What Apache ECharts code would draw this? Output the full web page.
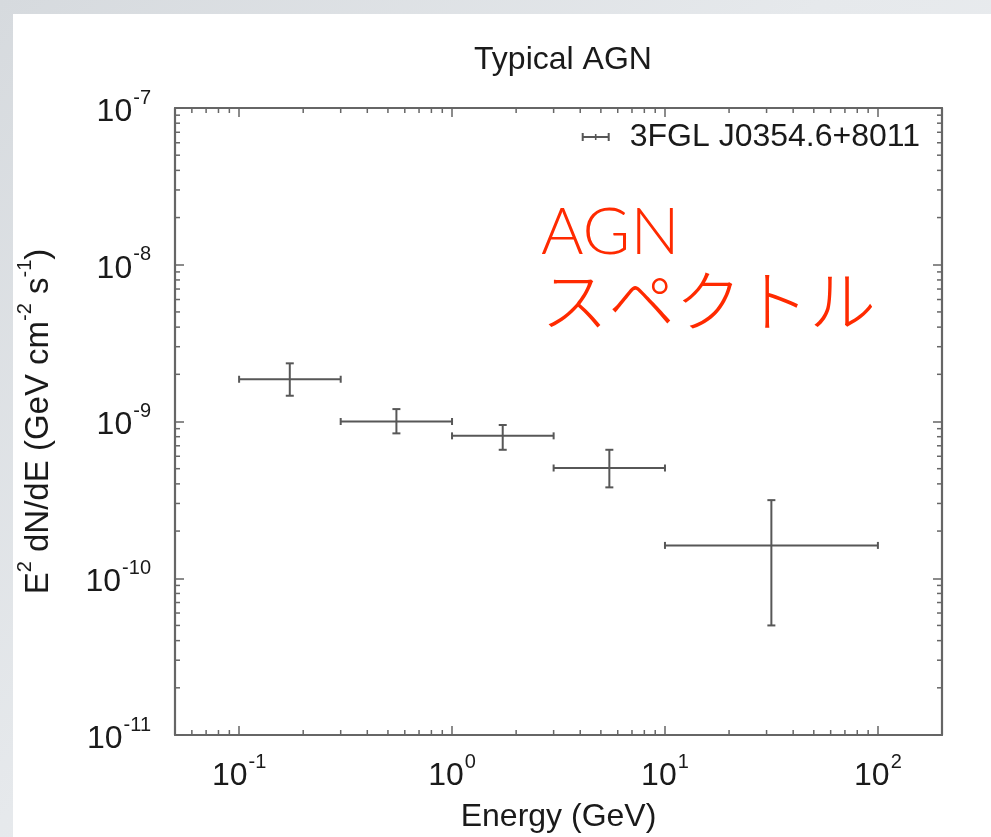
<!DOCTYPE html>
<html>
<head>
<meta charset="utf-8">
<script src="https://cdn.jsdelivr.net/npm/echarts@6/dist/echarts.min.js"></script>
<style>
  html, body { margin: 0; padding: 0; }
  body {
    width: 991px; height: 837px; overflow: hidden; position: relative;
    background: linear-gradient(135deg, #d6dade 0%, #e6e9ec 45%, #eef0f2 100%);
  }
  #panel { position: absolute; left: 13px; top: 14px; right: 0; bottom: 0; background: #ffffff; }
  #chart { position: absolute; left: 0; top: 0; width: 991px; height: 837px; }
</style>
</head>
<body>
<div id="panel"></div>
<div id="chart"></div>
<script>
// Fermi-LAT spectral points for 3FGL J0354.6+8011 (energy bins in GeV, E^2 dN/dE in GeV cm^-2 s^-1)
const sourceName = '3FGL J0354.6+8011';
const energyCenter = [0.173, 0.548, 1.73, 5.48, 31.6];
const energyLow    = [0.1, 0.3, 1, 3, 10];
const energyHigh   = [0.3, 1, 3, 10, 100];
const flux         = [1.86e-9, 1.0e-9, 8.1e-10, 5.05e-10, 1.62e-10];
const fluxLow      = [1.46e-9, 8.4e-10, 6.6e-10, 3.8e-10, 5.0e-11];
const fluxHigh     = [2.35e-9, 1.2e-9, 9.5e-10, 6.6e-10, 3.15e-10];

const xRange = [0.05, 200];
const yRange = [1e-11, 1e-7];

const FONT = '"Liberation Sans", Arial, Helvetica, sans-serif';
const TEXT_COLOR = '#1a1a1a';
const AXIS_COLOR = '#666666';
const BAR_COLOR = '#575757';

// minor (2..9) tick positions inside each axis range
function minorTicks(lo, hi) {
  const out = [];
  for (let e = Math.floor(Math.log10(lo)); e <= Math.ceil(Math.log10(hi)); e++) {
    for (let m = 2; m <= 9; m++) {
      const v = m * Math.pow(10, e);
      if (v > lo * 1.0001 && v < hi * 0.9999) out.push(v);
    }
  }
  return out;
}
const xMinor = minorTicks(xRange[0], xRange[1]);
const yMinor = minorTicks(yRange[0], yRange[1]);
const minorData = xMinor.map(v => [v, 1e-9, 0]).concat(yMinor.map(v => [1, v, 1]));

function powerLabel(v) {
  const lg = Math.log10(v);
  const ex = Math.round(lg);
  if (Math.abs(lg - ex) > 1e-6) return '';
  return '{b|10}{s|' + ex + '}';
}
const powerRich = {
  b: { fontFamily: FONT, fontSize: 32, lineHeight: 40, verticalAlign: 'bottom', color: TEXT_COLOR },
  s: { fontFamily: FONT, fontSize: 20, lineHeight: 22, verticalAlign: 'top', color: TEXT_COLOR, padding: [0, 0, 0, 1] }
};

const chart = echarts.init(document.getElementById('chart'), null, { renderer: 'canvas' });

const axisCommon = {
  type: 'log',
  logBase: 10,
  axisLine: { show: true, onZero: false, lineStyle: { color: AXIS_COLOR, width: 2.2 } },
  axisTick: { show: true, inside: true, length: 9, lineStyle: { color: AXIS_COLOR, width: 1.5 } },
  splitLine: { show: false },
  minorTick: { show: false },
  minorSplitLine: { show: false }
};

chart.setOption({
  animation: false,
  backgroundColor: 'transparent',
  title: {
    text: 'Typical AGN',
    left: 558,
    top: 39,
    textAlign: 'center',
    textStyle: { fontFamily: FONT, fontSize: 32, fontWeight: 'normal', color: TEXT_COLOR }
  },
  legend: {
    right: 66,
    top: 116,
    itemWidth: 28,
    itemHeight: 9,
    data: [{
      name: sourceName,
      icon: 'path://M0,3.5h28v2h-28z M0,0.5h2v8h-2z M13.2,1.5h1.6v6h-1.6z M26,0.5h2v8h-2z'
    }],
    textStyle: { fontFamily: FONT, fontSize: 32, color: TEXT_COLOR, padding: [0, 0, 0, 15] }
  },
  grid: { left: 175, right: 49, top: 108, bottom: 102, containLabel: false, outerBoundsMode: 'none' },
  xAxis: [
    Object.assign({}, axisCommon, {
      position: 'bottom',
      min: xRange[0], max: xRange[1],
      name: 'Energy (GeV)',
      nameLocation: 'middle',
      nameGap: 66,
      nameTextStyle: { fontFamily: FONT, fontSize: 32, color: TEXT_COLOR },
      axisLabel: { show: true, margin: 17, formatter: powerLabel, rich: powerRich, showMinLabel: true, showMaxLabel: true }
    }),
    Object.assign({}, axisCommon, {
      position: 'top',
      min: xRange[0], max: xRange[1],
      axisLabel: { show: false }
    })
  ],
  yAxis: [
    Object.assign({}, axisCommon, {
      position: 'left',
      min: yRange[0], max: yRange[1],
      name: '{m|E}{s|2}{m| dN/dE (GeV cm}{s|-2}{m| s}{s|-1}{m|)}',
      nameLocation: 'middle',
      nameRotate: 90,
      nameGap: 120,
      nameTextStyle: {
        rich: {
          m: { fontFamily: FONT, fontSize: 33, lineHeight: 40, verticalAlign: 'bottom', color: TEXT_COLOR },
          s: { fontFamily: FONT, fontSize: 20, lineHeight: 22, verticalAlign: 'top', color: TEXT_COLOR }
        }
      },
      axisLabel: { show: true, margin: 24, formatter: powerLabel, rich: powerRich }
    }),
    Object.assign({}, axisCommon, {
      position: 'right',
      min: yRange[0], max: yRange[1],
      axisLabel: { show: false }
    })
  ],
  graphic: [
    {
      type: 'text', left: 541, top: 201, z: 10,
      style: { text: 'AGN', fill: '#ff2a00', font: '300 65px "Lato", "Open Sans", sans-serif' }
    },
    {
      type: 'text', left: 541, top: 267, z: 10,
      style: { text: 'スペクトル', fill: '#ff2a00', font: '300 67px "Noto Sans CJK JP", sans-serif' }
    }
  ],
  series: [
    {
      name: sourceName,
      type: 'custom',
      xAxisIndex: 0,
      yAxisIndex: 0,
      itemStyle: { color: BAR_COLOR },
      encode: { x: [0, 2, 3], y: [1, 4, 5] },
      data: energyCenter.map((e, i) => [e, flux[i], energyLow[i], energyHigh[i], fluxLow[i], fluxHigh[i]]),
      renderItem: function (params, api) {
        const xc = api.value(0), yc = api.value(1);
        const c = api.coord([xc, yc]);
        const l = api.coord([api.value(2), yc]);
        const r = api.coord([api.value(3), yc]);
        const b = api.coord([xc, api.value(4)]);
        const t = api.coord([xc, api.value(5)]);
        const st = { stroke: BAR_COLOR, lineWidth: 2, fill: null };
        const hc = 3.5, vc = 4;
        const line = (x1, y1, x2, y2) => ({ type: 'line', shape: { x1, y1, x2, y2 }, style: st });
        return {
          type: 'group',
          children: [
            line(l[0], c[1], r[0], c[1]),
            line(l[0], c[1] - hc, l[0], c[1] + hc),
            line(r[0], c[1] - hc, r[0], c[1] + hc),
            line(c[0], t[1], c[0], b[1]),
            line(c[0] - vc, t[1], c[0] + vc, t[1]),
            line(c[0] - vc, b[1], c[0] + vc, b[1])
          ]
        };
      }
    },
    {
      // minor ticks on all four sides of the frame
      name: 'minor-ticks',
      type: 'custom',
      xAxisIndex: 0,
      yAxisIndex: 0,
      silent: true,
      clip: false,
      encode: { x: 0, y: 1 },
      data: minorData,
      renderItem: function (params, api) {
        const cs = params.coordSys;
        const kind = api.value(2);
        const st = { stroke: AXIS_COLOR, lineWidth: 1.5 };
        const len = 5;
        if (kind === 0) {
          const x = api.coord([api.value(0), 1e-9])[0];
          return {
            type: 'group',
            children: [
              { type: 'line', shape: { x1: x, y1: cs.y + cs.height, x2: x, y2: cs.y + cs.height - len }, style: st },
              { type: 'line', shape: { x1: x, y1: cs.y, x2: x, y2: cs.y + len }, style: st }
            ]
          };
        }
        const y = api.coord([1, api.value(1)])[1];
        return {
          type: 'group',
          children: [
            { type: 'line', shape: { x1: cs.x, y1: y, x2: cs.x + len, y2: y }, style: st },
            { type: 'line', shape: { x1: cs.x + cs.width, y1: y, x2: cs.x + cs.width - len, y2: y }, style: st }
          ]
        };
      }
    }
  ]
});
</script>
</body>
</html>
